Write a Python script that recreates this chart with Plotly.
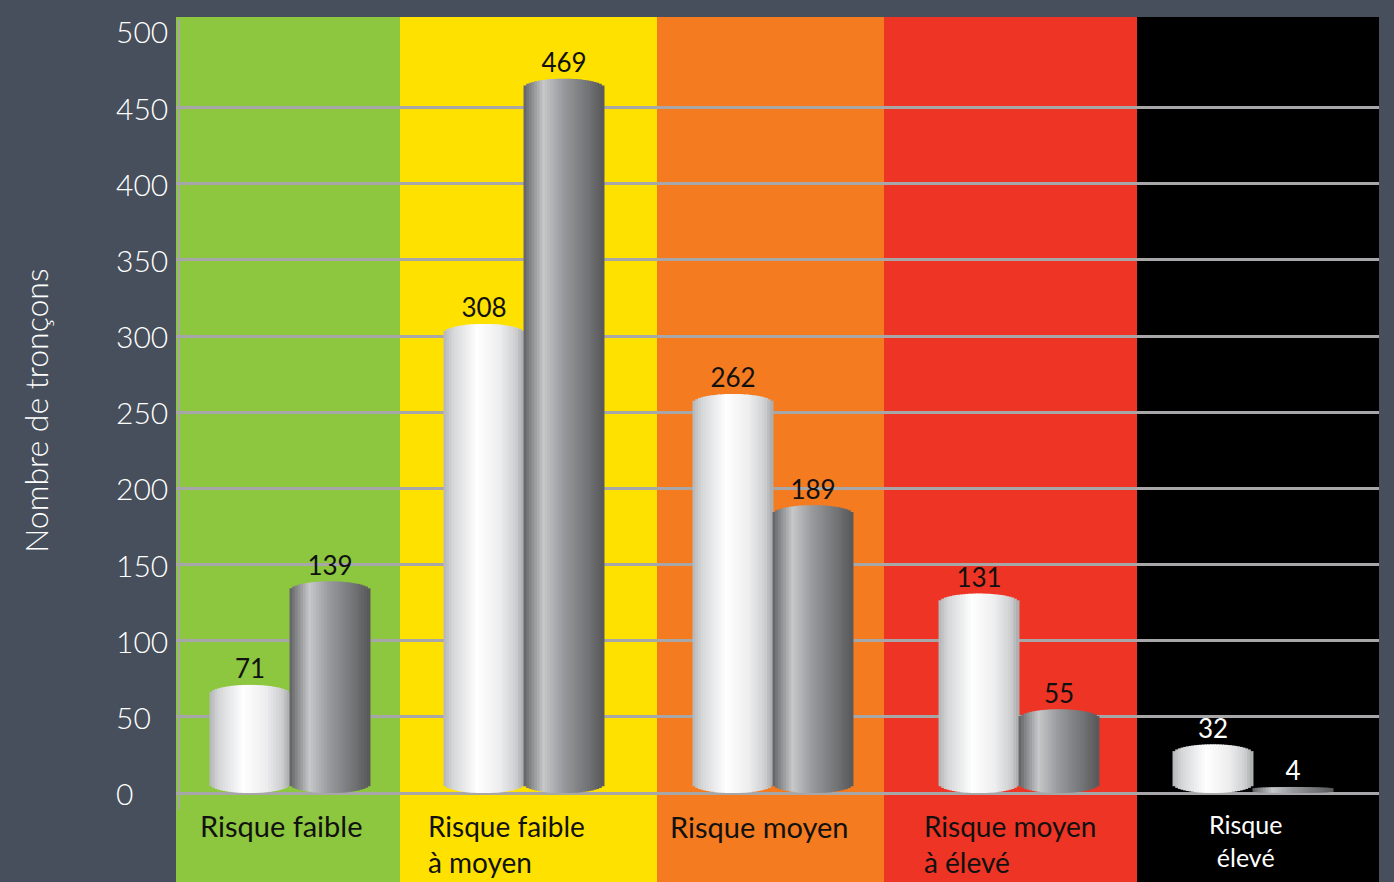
import plotly.graph_objects as go

# --- data ---
categories = ["Risque faible", "Risque faible<br>à moyen", "Risque moyen",
              "Risque moyen<br>à élevé", "Risque<br>élevé"]
serie_claire = [71, 308, 262, 131, 32]
serie_foncee = [139, 469, 189, 55, 4]
y_ticks = [0, 50, 100, 150, 200, 250, 300, 350, 400, 450, 500]
y_title = "Nombre de tronçons"

# --- styling / layout constants ---
band_colors = ["#8dc63f", "#ffe100", "#f47b20", "#ee3424", "#000000"]
text_colors = ["#111111", "#111111", "#111111", "#111111", "#ffffff"]
band_edges = [0, 224, 481, 708, 961, 1203]      # x in plot pixels
group_centers = [114, 348, 597, 843, 1077]
bar_w = 80
n_strips = 30
cap = 6
bg = "#464f5b"
grid = "#a7a7a9"
font = "Lato"

white_stops = [(0, "#b4b5b7"), (0.12, "#d6d7d9"), (0.42, "#ffffff"),
               (0.7, "#eeeeef"), (0.9, "#cfd0d2"), (1, "#a8a9ab")]
grey_stops = [(0, "#606062"), (0.1, "#8a8b8d"), (0.25, "#c6c7c9"),
              (0.5, "#98999c"), (0.8, "#737476"), (1, "#58585a")]


def shade(stops, t):
    for (t0, c0), (t1, c1) in zip(stops, stops[1:]):
        if t <= t1:
            f = (t - t0) / (t1 - t0)
            a = [int(c0[i:i + 2], 16) for i in (1, 3, 5)]
            b = [int(c1[i:i + 2], 16) for i in (1, 3, 5)]
            return "rgb(%d,%d,%d)" % tuple(round(p + (q - p) * f) for p, q in zip(a, b))
    return stops[-1][1]


def cylinder(fig, centers, values, stops):
    # each bar is cut into thin vertical strips to fake the cylinder shading
    for i in range(n_strips):
        t = (i + 0.5) / n_strips
        u = 2 * t - 1
        sag = 1 - (1 - u * u) ** 0.5
        d = [min(cap, v / 4) for v in values]
        fig.add_trace(go.Bar(
            x=[c + u * bar_w / 2 for c in centers],
            y=[v - 2 * dd * sag for v, dd in zip(values, d)],
            base=[dd * sag for dd in d],
            width=bar_w / n_strips * 1.35,
            marker=dict(color=shade(stops, t), line_width=0),
            hoverinfo="skip", showlegend=False))


fig = go.Figure()

left_c = [c - bar_w / 2 for c in group_centers]
right_c = [c + bar_w / 2 for c in group_centers]
cylinder(fig, left_c, serie_claire, white_stops)
cylinder(fig, right_c, serie_foncee, grey_stops)

fig.add_trace(go.Scatter(
    x=left_c + right_c, y=serie_claire + serie_foncee,
    text=[str(v) for v in serie_claire + serie_foncee],
    mode="text", textposition="top center",
    textfont=dict(family=font, size=26, color=text_colors + text_colors),
    hoverinfo="skip", showlegend=False))

shapes = []
for i, col in enumerate(band_colors):
    shapes.append(dict(type="rect", layer="below", xref="x", yref="paper",
                       x0=band_edges[i], x1=band_edges[i + 1], y0=0, y1=1,
                       fillcolor=col, line_width=0))
shapes.append(dict(type="line", xref="x", yref="y", x0=3, x1=3, y0=-11, y1=508,
                   line=dict(color=grid, width=2)))

annotations = []
for v in y_ticks:
    annotations.append(dict(text=str(v), xref="paper", yref="y", x=-0.0515, y=v,
                            xanchor="left", yanchor="middle", showarrow=False,
                            font=dict(family=font, size=30, color="white",
                                      weight=300)))

label_x = [22, 250, 492, 746, 1069]
label_anchor = ["left", "left", "left", "left", "center"]
label_y = [-21, -33.5, -22, -33.5, -31]
label_size = [29, 28, 29, 28, 25]
for cat, lx, la, ly, ls, tc in zip(categories, label_x, label_anchor, label_y,
                                   label_size, text_colors):
    annotations.append(dict(text=cat, xref="x", yref="y", x=lx, y=ly,
                            xanchor=la, yanchor="middle", align=la,
                            showarrow=False,
                            font=dict(family=font, size=ls, color=tc)))

annotations.append(dict(text=y_title, xref="paper", yref="paper",
                        x=-0.117, y=0.545, textangle=-90, showarrow=False,
                        xanchor="center", yanchor="middle",
                        font=dict(family=font, size=32, color="white",
                                  weight=300)))

fig.update_layout(
    width=1394, height=882,
    margin=dict(l=176, r=15, t=17, b=0),
    paper_bgcolor=bg, plot_bgcolor=bg,
    barmode="overlay",
    shapes=shapes, annotations=annotations,
    xaxis=dict(range=[0, 1203], visible=False, fixedrange=True),
    yaxis=dict(range=[-58.4, 509.5], tickvals=y_ticks[:-1], showticklabels=False,
               gridcolor=grid, gridwidth=2.5, zeroline=False, showline=False,
               fixedrange=True),
)

fig.write_html("out.html", config={"displayModeBar": False},
               post_script="document.body.style.margin='0';")
